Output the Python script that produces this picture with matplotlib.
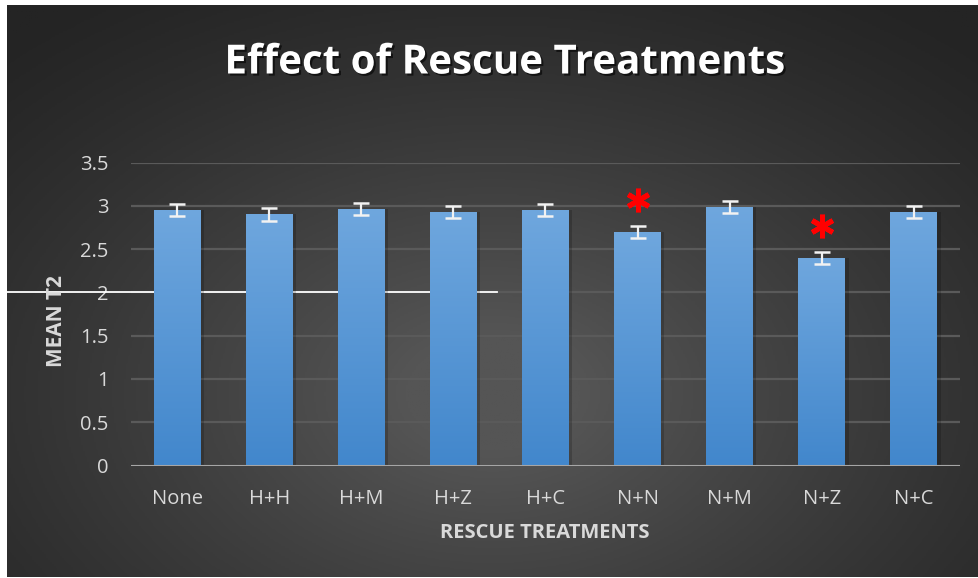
import numpy as np
import matplotlib
matplotlib.use("Agg")
import matplotlib.pyplot as plt
import matplotlib.patheffects as pe
from matplotlib.colors import LinearSegmentedColormap
from matplotlib.lines import Line2D

# ── Data ───────────────────────────────────────────────────────────────────────
treatments = ["None", "H+H", "H+M", "H+Z", "H+C", "N+N", "N+M", "N+Z", "N+C"]
mean_t2    = [2.95, 2.90, 2.96, 2.93, 2.95, 2.70, 2.99, 2.40, 2.93]
err_t2     = [0.07, 0.07, 0.07, 0.07, 0.07, 0.07, 0.07, 0.07, 0.07]
significant = ["N+N", "N+Z"]

W, H = 979, 578
fig = plt.figure(figsize=(W / 100, H / 100), dpi=100)
fig.patch.set_facecolor("white")

# ── Dark radial-gradient backdrop ──────────────────────────────────────────────
bg = fig.add_axes([7 / W, 1 / H, (W - 7) / W, (H - 6) / H], zorder=0)
bg.set_axis_off()
yy, xx = np.mgrid[0:1:300j, 0:1:500j]
r = np.sqrt(((xx - 0.5) / 0.75) ** 2 + ((yy - 0.32) / 0.85) ** 2)
shade = np.clip(1 - r, 0, 1) ** 1.3
bg_cmap = LinearSegmentedColormap.from_list("bg", ["#242424", "#555555"])
bg.imshow(shade, cmap=bg_cmap, aspect="auto", origin="lower",
          extent=[0, 1, 0, 1], vmin=0, vmax=0.85)
bg.set_xlim(0, 1)
bg.set_ylim(0, 1)

# ── Main axes ──────────────────────────────────────────────────────────────────
x0, x1 = 131, 960
y_top, y_bot = 162.5, 465.5
ax = fig.add_axes([x0 / W, 1 - y_bot / H, (x1 - x0) / W, (y_bot - y_top) / H], zorder=2)
ax.patch.set_alpha(0)
for s in ax.spines.values():
    s.set_visible(False)
ax.set_yticks(np.arange(0, 3.51, 0.5))
ax.set_yticklabels(["0", "0.5", "1", "1.5", "2", "2.5", "3", "3.5"])
ax.set_xticks(range(len(treatments)))
ax.set_xticklabels(treatments)
ax.tick_params(length=0, colors="#d9d9d9", labelsize=14.5)
ax.tick_params(axis="y", pad=16)
ax.tick_params(axis="x", pad=17)
for lab in ax.get_xticklabels() + ax.get_yticklabels():
    lab.set_fontfamily("Open Sans")
ax.yaxis.grid(True, color="#5a5a5a", linewidth=1.6, zorder=0)
ax.set_axisbelow(True)
ax.axhline(0, color="#a6a6a6", linewidth=2.2, zorder=4)

# stray white line at y=2 (behind the bars)
ax.add_line(Line2D([(7 - x0) / (x1 - x0), (497 - x0) / (x1 - x0)], [2, 2],
                   transform=ax.get_yaxis_transform(), color="white",
                   linewidth=1.3, clip_on=False, zorder=1))

# bars with vertical gradient
bar_cmap = LinearSegmentedColormap.from_list("bar", ["#4287CC", "#6FA7DE"])
grad = np.linspace(0, 1, 256).reshape(-1, 1)
bars = ax.bar(range(len(treatments)), mean_t2, width=0.51, color="none",
              edgecolor="none", zorder=3)
for b in bars:
    bx, by = b.get_x(), b.get_y()
    bw, bh = b.get_width(), b.get_height()
    # soft shadow
    ax.bar(bx + bw / 2 + 0.025, bh, width=bw + 0.02, color="black", alpha=0.18,
           zorder=2.5, linewidth=0)
    im = ax.imshow(grad, cmap=bar_cmap, aspect="auto", origin="lower",
                   extent=[bx, bx + bw, by, by + bh], zorder=3)
    im.set_clip_path(b)
ax.set_xlim(-0.5, len(treatments) - 0.5)
ax.set_ylim(0, 3.5)

ax.errorbar(range(len(treatments)), mean_t2, yerr=err_t2, fmt="none",
            ecolor="#f2f2f2", elinewidth=1.6, capsize=6, capthick=1.8, zorder=5)

# significance asterisks
for name in significant:
    i = treatments.index(name)
    ax.plot(i, mean_t2[i] + err_t2[i] + 0.30, marker=(6, 2, 0), markersize=17,
            markeredgewidth=3.6, color="#ff0000", linestyle="none", zorder=6,
            clip_on=False)

# ── Labels ─────────────────────────────────────────────────────────────────────
fig.text(504 / W, 1 - 63 / H, "Effect of Rescue Treatments", color="white",
         fontsize=29, fontweight="bold", ha="center", va="center",
         fontfamily="Open Sans", zorder=5,
         path_effects=[pe.withSimplePatchShadow(offset=(1.5, -1.5),
                                                shadow_rgbFace="black", alpha=0.6)])
fig.text(545 / W, 1 - 533 / H, "RESCUE TREATMENTS", color="#d9d9d9",
         fontsize=14.5, fontweight="bold", ha="center", va="center",
         fontfamily="Open Sans", zorder=5)
fig.text(57 / W, 1 - 321 / H, "MEAN T2", color="#d9d9d9", rotation=90,
         fontsize=15, fontweight="bold", ha="center", va="center",
         fontfamily="Open Sans", zorder=5)

fig.savefig("out.png", dpi=100)
